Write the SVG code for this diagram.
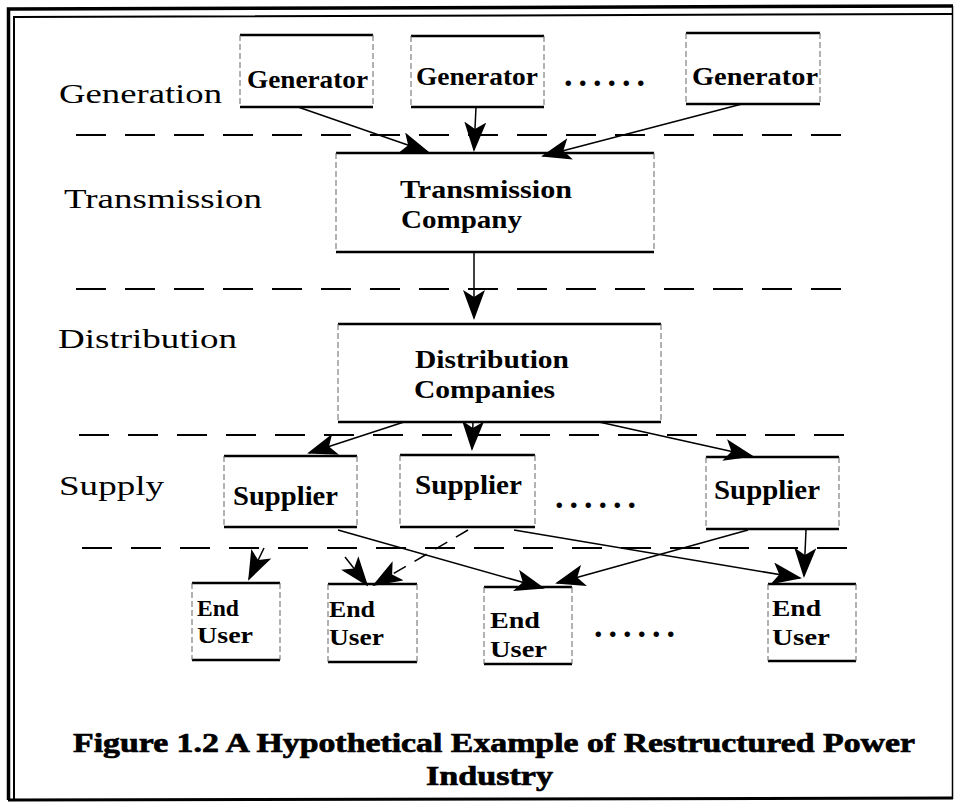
<svg xmlns="http://www.w3.org/2000/svg" width="954" height="803" viewBox="0 0 954 803">
<defs>
<style>
.lbl{font-family:"Liberation Serif","Times New Roman",serif;font-size:28px;fill:#000;}
.bt{font-family:"Liberation Serif","Times New Roman",serif;font-size:25px;font-weight:bold;fill:#000;}
.sp{font-family:"Liberation Serif","Times New Roman",serif;font-size:27px;font-weight:bold;fill:#000;}
.eu{font-family:"Liberation Serif","Times New Roman",serif;font-size:24px;font-weight:bold;fill:#000;}
.cap{font-family:"Liberation Serif","Times New Roman",serif;font-size:28px;font-weight:bold;fill:#000;stroke:#000;stroke-width:0.7;}
.dots{font-family:"Liberation Serif","Times New Roman",serif;font-size:34px;font-weight:bold;fill:#000;letter-spacing:6px;}
.tb{stroke:#000;stroke-width:2.5;fill:none;}
.sd{stroke:#666;stroke-width:1;stroke-dasharray:6 3;fill:none;}
.dash{stroke:#000;stroke-width:2;stroke-dasharray:30 19;fill:none;}
.con{stroke:#000;stroke-width:1.5;fill:none;marker-end:url(#ah);}
.conb{stroke:#000;stroke-width:1.5;fill:none;stroke-dasharray:14 10;marker-end:url(#ah);}
</style>
<marker id="ah" viewBox="0 0 30 22" refX="28" refY="11" markerWidth="30" markerHeight="22" markerUnits="userSpaceOnUse" orient="auto">
<path d="M0,0 L30,11 L0,22 L7,11 Z" fill="#000"/>
</marker>
</defs>
<rect width="954" height="803" fill="#fff"/>

<g id="frame" fill="none" stroke="#000">
<path d="M8.5,800 L8.5,9 L953,6" stroke-width="3.5"/>
<path d="M14,799 L14,17 L953,14" stroke-width="2"/>
<path d="M8,800 L953,798" stroke-width="3"/>
<line x1="952.5" y1="6" x2="952.5" y2="799" stroke-width="1.5"/>
</g>

<g id="layers">
<line class="dash" x1="76" y1="135" x2="849" y2="135"/>
<line class="dash" x1="76" y1="289" x2="852" y2="289"/>
<line class="dash" x1="79" y1="435" x2="858" y2="435"/>
<line class="dash" x1="82" y1="548" x2="861" y2="548"/>
<text class="lbl" x="59" y="103" textLength="163" lengthAdjust="spacingAndGlyphs">Generation</text>
<text class="lbl" x="64" y="208" textLength="198" lengthAdjust="spacingAndGlyphs">Transmission</text>
<text class="lbl" x="58" y="348" textLength="179" lengthAdjust="spacingAndGlyphs">Distribution</text>
<text class="lbl" x="59" y="495" textLength="105" lengthAdjust="spacingAndGlyphs">Supply</text>
</g>

<g id="connectors">
<line class="con" x1="298" y1="107" x2="428" y2="152"/>
<line class="con" x1="476" y1="107" x2="474" y2="150"/>
<line class="con" x1="742" y1="104" x2="543" y2="156"/>
<line class="con" x1="474" y1="252" x2="474" y2="318"/>
<line class="con" x1="404" y1="422" x2="309" y2="453"/>
<line class="con" x1="473" y1="422" x2="472" y2="449"/>
<line class="con" x1="599" y1="422" x2="752" y2="456"/>
<line class="con" x1="264" y1="548" x2="249" y2="579"/>
<line class="con" x1="345" y1="557" x2="367" y2="585"/>
<line class="conb" x1="468" y1="530" x2="374" y2="585"/>
<line class="con" x1="338" y1="530" x2="543" y2="588"/>
<line class="con" x1="748" y1="530" x2="557" y2="583"/>
<line class="con" x1="514" y1="530" x2="800" y2="578"/>
<line class="con" x1="806" y1="530" x2="804" y2="576"/>
</g>

<g id="gen1">
<line class="tb" x1="240" y1="35" x2="373" y2="35"/><line class="tb" x1="240" y1="107" x2="373" y2="107"/>
<line class="sd" x1="240" y1="35" x2="240" y2="107"/><line class="sd" x1="373" y1="35" x2="373" y2="107"/>
<text class="bt" x="247" y="88" textLength="121" lengthAdjust="spacingAndGlyphs">Generator</text>
</g>
<g id="gen2">
<line class="tb" x1="411" y1="36" x2="544" y2="36"/><line class="tb" x1="411" y1="107" x2="544" y2="107"/>
<line class="sd" x1="411" y1="36" x2="411" y2="107"/><line class="sd" x1="544" y1="36" x2="544" y2="107"/>
<text class="bt" x="416" y="85" textLength="122" lengthAdjust="spacingAndGlyphs">Generator</text>
</g>
<text class="dots" x="564" y="86">......</text>
<g id="gen3">
<line class="tb" x1="686" y1="33" x2="820" y2="33"/><line class="tb" x1="686" y1="104" x2="820" y2="104"/>
<line class="sd" x1="686" y1="33" x2="686" y2="104"/><line class="sd" x1="820" y1="33" x2="820" y2="104"/>
<text class="bt" x="692" y="85" textLength="126" lengthAdjust="spacingAndGlyphs">Generator</text>
</g>

<g id="transmission">
<line class="tb" x1="336" y1="153" x2="654" y2="153"/><line class="tb" x1="336" y1="252" x2="654" y2="252"/>
<line class="sd" x1="336" y1="153" x2="336" y2="252"/><line class="sd" x1="654" y1="153" x2="654" y2="252"/>
<text class="bt" x="400" y="198" textLength="172" lengthAdjust="spacingAndGlyphs">Transmission</text>
<text class="bt" x="401" y="228" textLength="121" lengthAdjust="spacingAndGlyphs">Company</text>
</g>

<g id="distribution">
<line class="tb" x1="338" y1="324" x2="661" y2="324"/><line class="tb" x1="338" y1="422" x2="661" y2="422"/>
<line class="sd" x1="338" y1="324" x2="338" y2="422"/><line class="sd" x1="661" y1="324" x2="661" y2="422"/>
<text class="bt" x="415" y="368" textLength="154" lengthAdjust="spacingAndGlyphs">Distribution</text>
<text class="bt" x="414" y="398" textLength="141" lengthAdjust="spacingAndGlyphs">Companies</text>
</g>

<g id="sup1">
<line class="tb" x1="224" y1="456" x2="357" y2="456"/><line class="tb" x1="224" y1="527" x2="357" y2="527"/>
<line class="sd" x1="224" y1="456" x2="224" y2="527"/><line class="sd" x1="357" y1="456" x2="357" y2="527"/>
<text class="sp" x="233" y="505" textLength="105" lengthAdjust="spacingAndGlyphs">Supplier</text>
</g>
<g id="sup2">
<line class="tb" x1="400" y1="455" x2="535" y2="455"/><line class="tb" x1="400" y1="527" x2="535" y2="527"/>
<line class="sd" x1="400" y1="455" x2="400" y2="527"/><line class="sd" x1="535" y1="455" x2="535" y2="527"/>
<text class="sp" x="415" y="494" textLength="107" lengthAdjust="spacingAndGlyphs">Supplier</text>
</g>
<text class="dots" x="555" y="508">......</text>
<g id="sup3">
<line class="tb" x1="706" y1="457" x2="839" y2="457"/><line class="tb" x1="706" y1="529" x2="839" y2="529"/>
<line class="sd" x1="706" y1="457" x2="706" y2="529"/><line class="sd" x1="839" y1="457" x2="839" y2="529"/>
<text class="sp" x="714" y="499" textLength="106" lengthAdjust="spacingAndGlyphs">Supplier</text>
</g>

<g id="eu1">
<line class="tb" x1="192" y1="583" x2="280" y2="583"/><line class="tb" x1="192" y1="660" x2="280" y2="660"/>
<line class="sd" x1="192" y1="583" x2="192" y2="660"/><line class="sd" x1="280" y1="583" x2="280" y2="660"/>
<text class="eu" x="197" y="616" textLength="42" lengthAdjust="spacingAndGlyphs">End</text>
<text class="eu" x="197" y="643" textLength="56" lengthAdjust="spacingAndGlyphs">User</text>
</g>
<g id="eu2">
<line class="tb" x1="328" y1="584" x2="417" y2="584"/><line class="tb" x1="328" y1="662" x2="417" y2="662"/>
<line class="sd" x1="328" y1="584" x2="328" y2="662"/><line class="sd" x1="417" y1="584" x2="417" y2="662"/>
<text class="eu" x="329" y="617" textLength="46" lengthAdjust="spacingAndGlyphs">End</text>
<text class="eu" x="329" y="645" textLength="55" lengthAdjust="spacingAndGlyphs">User</text>
</g>
<g id="eu3">
<line class="tb" x1="484" y1="587" x2="572" y2="587"/><line class="tb" x1="484" y1="664" x2="572" y2="664"/>
<line class="sd" x1="484" y1="587" x2="484" y2="664"/><line class="sd" x1="572" y1="587" x2="572" y2="664"/>
<text class="eu" x="490" y="628" textLength="50" lengthAdjust="spacingAndGlyphs">End</text>
<text class="eu" x="490" y="657" textLength="57" lengthAdjust="spacingAndGlyphs">User</text>
</g>
<text class="dots" x="594" y="637">......</text>
<g id="eu4">
<line class="tb" x1="768" y1="584" x2="856" y2="584"/><line class="tb" x1="768" y1="661" x2="856" y2="661"/>
<line class="sd" x1="768" y1="584" x2="768" y2="661"/><line class="sd" x1="856" y1="584" x2="856" y2="661"/>
<text class="eu" x="772" y="616" textLength="49" lengthAdjust="spacingAndGlyphs">End</text>
<text class="eu" x="772" y="645" textLength="58" lengthAdjust="spacingAndGlyphs">User</text>
</g>

<g id="caption">
<text class="cap" x="73" y="752" textLength="842" lengthAdjust="spacingAndGlyphs">Figure 1.2 A Hypothetical Example of Restructured Power</text>
<text class="cap" x="426" y="785" textLength="127" lengthAdjust="spacingAndGlyphs">Industry</text>
</g>
</svg>
